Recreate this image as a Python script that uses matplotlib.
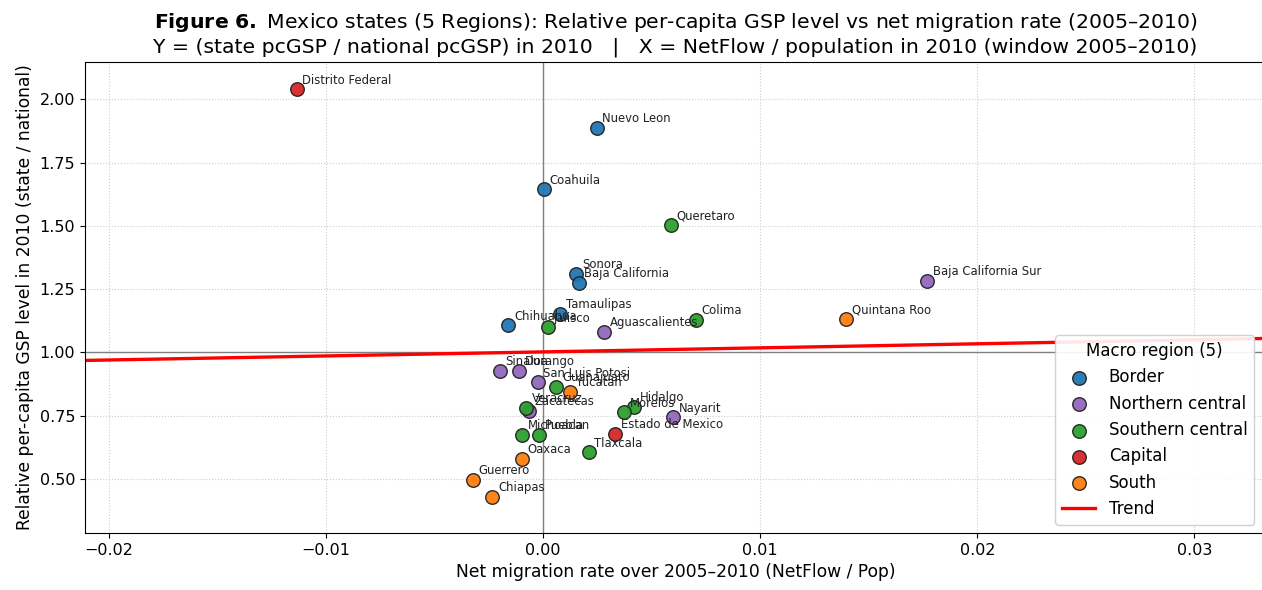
import matplotlib
matplotlib.use("Agg")
import matplotlib.pyplot as plt

# Net migration rate 2005-2010 and relative per-capita GSP (2010), by macro region
regions = ["Border", "Northern central", "Southern central", "Capital", "South"]
region_colors = ["#1f77b4", "#9467bd", "#2ca02c", "#d62728", "#ff7f0e"]

border_states = ["Nuevo Leon", "Coahuila", "Sonora", "Baja California", "Tamaulipas", "Chihuahua"]
border_x = [0.00247, 0.00005, 0.00153, 0.00165, 0.00078, -0.00160]
border_y = [1.887, 1.645, 1.311, 1.276, 1.152, 1.107]

ncentral_states = ["Baja California Sur", "Aguascalientes", "Sinaloa", "Durango",
                   "San Luis Potosi", "Zacatecas", "Nayarit"]
ncentral_x = [0.01770, 0.00281, -0.00198, -0.00109, -0.00024, -0.00065, 0.00600]
ncentral_y = [1.284, 1.081, 0.928, 0.928, 0.881, 0.769, 0.744]

scentral_states = ["Queretaro", "Colima", "Jalisco", "Guanajuato", "Veracruz", "Hidalgo",
                   "Morelos", "Michoacan", "Puebla", "Tlaxcala"]
scentral_x = [0.00588, 0.00705, 0.00022, 0.00061, -0.00078, 0.00418, 0.00372,
              -0.00097, -0.00017, 0.00211]
scentral_y = [1.505, 1.129, 1.099, 0.863, 0.782, 0.786, 0.764, 0.674, 0.674, 0.606]

capital_states = ["Distrito Federal", "Estado de Mexico"]
capital_x = [-0.01134, 0.00333]
capital_y = [2.040, 0.678]

south_states = ["Quintana Roo", "Yucatan", "Oaxaca", "Guerrero", "Chiapas"]
south_x = [0.01396, 0.00124, -0.00097, -0.00323, -0.00234]
south_y = [1.133, 0.844, 0.579, 0.497, 0.430]

# fitted trend: y = intercept + slope * x
trend_intercept = 1.002
trend_slope = 1.60

groups = [
    (border_states, border_x, border_y),
    (ncentral_states, ncentral_x, ncentral_y),
    (scentral_states, scentral_x, scentral_y),
    (capital_states, capital_x, capital_y),
    (south_states, south_x, south_y),
]

fig = plt.figure(figsize=(12.62, 5.90), dpi=100)
ax = fig.add_axes([0.0674, 0.0966, 0.9358, 0.7983])

ax.grid(True, linestyle=":", color="#cccccc", linewidth=0.8)
ax.set_axisbelow(True)
ax.axhline(1.0, color="gray", linewidth=1, zorder=1)
ax.axvline(0.0, color="gray", linewidth=1, zorder=1)

for (names, xs, ys), reg, col in zip(groups, regions, region_colors):
    ax.scatter(xs, ys, s=95, color=col, edgecolor="#222222", linewidth=1.0,
               alpha=0.95, label=reg, zorder=3)
    for name, x, y in zip(names, xs, ys):
        ax.annotate(name, (x, y), xytext=(4, 4), textcoords="offset points",
                    fontsize=8.4, color="#222222", zorder=4)

xlim = (-0.0211, 0.0333)
ax.plot(list(xlim), [trend_intercept + trend_slope * v for v in xlim],
        color="red", linewidth=2.4, label="Trend", zorder=2)
ax.set_xlim(*xlim)
ax.set_ylim(0.286, 2.148)
ax.set_xticks([-0.02, -0.01, 0.0, 0.01, 0.02, 0.03])
ax.set_yticks([0.5, 0.75, 1.0, 1.25, 1.5, 1.75, 2.0])
ax.yaxis.set_major_formatter(matplotlib.ticker.FormatStrFormatter("%.2f"))
ax.tick_params(labelsize=11.5)

ax.set_xlabel("Net migration rate over 2005–2010 (NetFlow / Pop)", fontsize=12.3)
ax.set_ylabel("Relative per-capita GSP level in 2010 (state / national)", fontsize=12.3)
ax.set_title(r"$\bf{Figure\ 6.}$ Mexico states (5 Regions): Relative per-capita GSP level vs net migration rate (2005–2010)"
             "\nY = (state pcGSP / national pcGSP) in 2010   |   X = NetFlow / population in 2010 (window 2005–2010)",
             fontsize=14.7, pad=7)

leg = ax.legend(title="Macro region (5)", loc="lower right", fontsize=12.0,
                title_fontsize=12.0, bbox_to_anchor=(0.997, 0.0), framealpha=0.9)

fig.savefig("out.png", dpi=100)
